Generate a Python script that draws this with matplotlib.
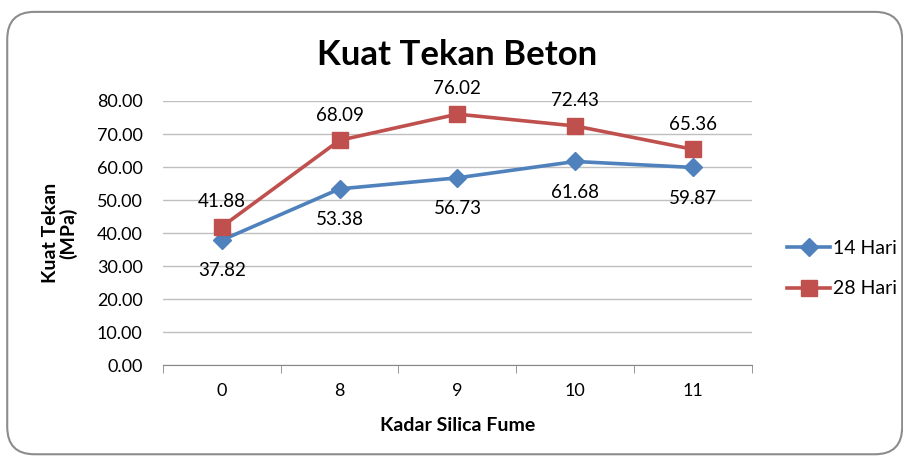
import matplotlib.pyplot as plt
from matplotlib.patches import FancyBboxPatch

# data
categories = ["0", "8", "9", "10", "11"]
hari_14 = [37.82, 53.38, 56.73, 61.68, 59.87]
hari_28 = [41.88, 68.09, 76.02, 72.43, 65.36]
series_names = ["14 Hari", "28 Hari"]
y_ticks = [0, 10, 20, 30, 40, 50, 60, 70, 80]

plt.rcParams['font.family'] = ['Lato', 'DejaVu Sans']

blue = "#4F81BD"
red = "#C0504D"

fig = plt.figure(figsize=(9.04, 4.57), dpi=100)
ax = fig.add_axes([0.180, 0.201, 0.652, 0.578])

# rounded chart border
border = FancyBboxPatch((0.008, 0.006), 0.99, 0.968, boxstyle="round,pad=0,rounding_size=0.03",
                        transform=fig.transFigure, facecolor="none", edgecolor="#8C8C8C",
                        linewidth=1.5, mutation_aspect=2.0)
fig.patches.append(border)

x = list(range(len(categories)))
ax.plot(x, hari_14, color=blue, lw=2.6, marker="D", ms=9, label=series_names[0], zorder=3)
ax.plot(x, hari_28, color=red, lw=2.6, marker="s", ms=11.5, label=series_names[1], zorder=3)

# data labels: 14 Hari below, 28 Hari above
for xi, v in zip(x, hari_14):
    ax.annotate("%.2f" % v, (xi, v), xytext=(0, -16), textcoords="offset points",
                ha="center", va="top", fontsize=13.5)
for xi, v in zip(x, hari_28):
    ax.annotate("%.2f" % v, (xi, v), xytext=(0, 12), textcoords="offset points",
                ha="center", va="bottom", fontsize=13.5)

ax.set_xlim(-0.5, len(categories) - 0.5)
ax.set_ylim(0, 80)
ax.set_yticks(y_ticks)
ax.set_yticklabels(["%.2f" % t for t in y_ticks], fontsize=13)
ax.set_xticks(x)
ax.set_xticklabels(categories, fontsize=13)
ax.tick_params(axis="y", length=0, pad=14.4)
ax.tick_params(axis="x", length=0, pad=13)
# tick marks between categories
ax.set_xticks([i - 0.5 for i in range(len(categories) + 1)], minor=True)
ax.tick_params(axis="x", which="minor", length=6, direction="out", color="#868686")

ax.grid(axis="y", color="#BFBFBF", lw=1)
ax.set_axisbelow(True)
for side in ["top", "right", "left"]:
    ax.spines[side].set_visible(False)
ax.spines["bottom"].set_color("#868686")

ax.set_title("Kuat Tekan Beton", fontsize=25, fontweight="bold", pad=26)
ax.set_xlabel("Kadar Silica Fume", fontsize=14, fontweight="bold", labelpad=13)
ax.set_ylabel("Kuat Tekan\n(MPa)", fontsize=14, fontweight="bold", labelpad=14, linespacing=1.0)

ax.legend(loc="center left", bbox_to_anchor=(1.04, 0.365), frameon=False, fontsize=14,
          handlelength=2.2, labelspacing=1.2, handletextpad=0.15, borderaxespad=0.2)

fig.savefig("out.png", dpi=100)
